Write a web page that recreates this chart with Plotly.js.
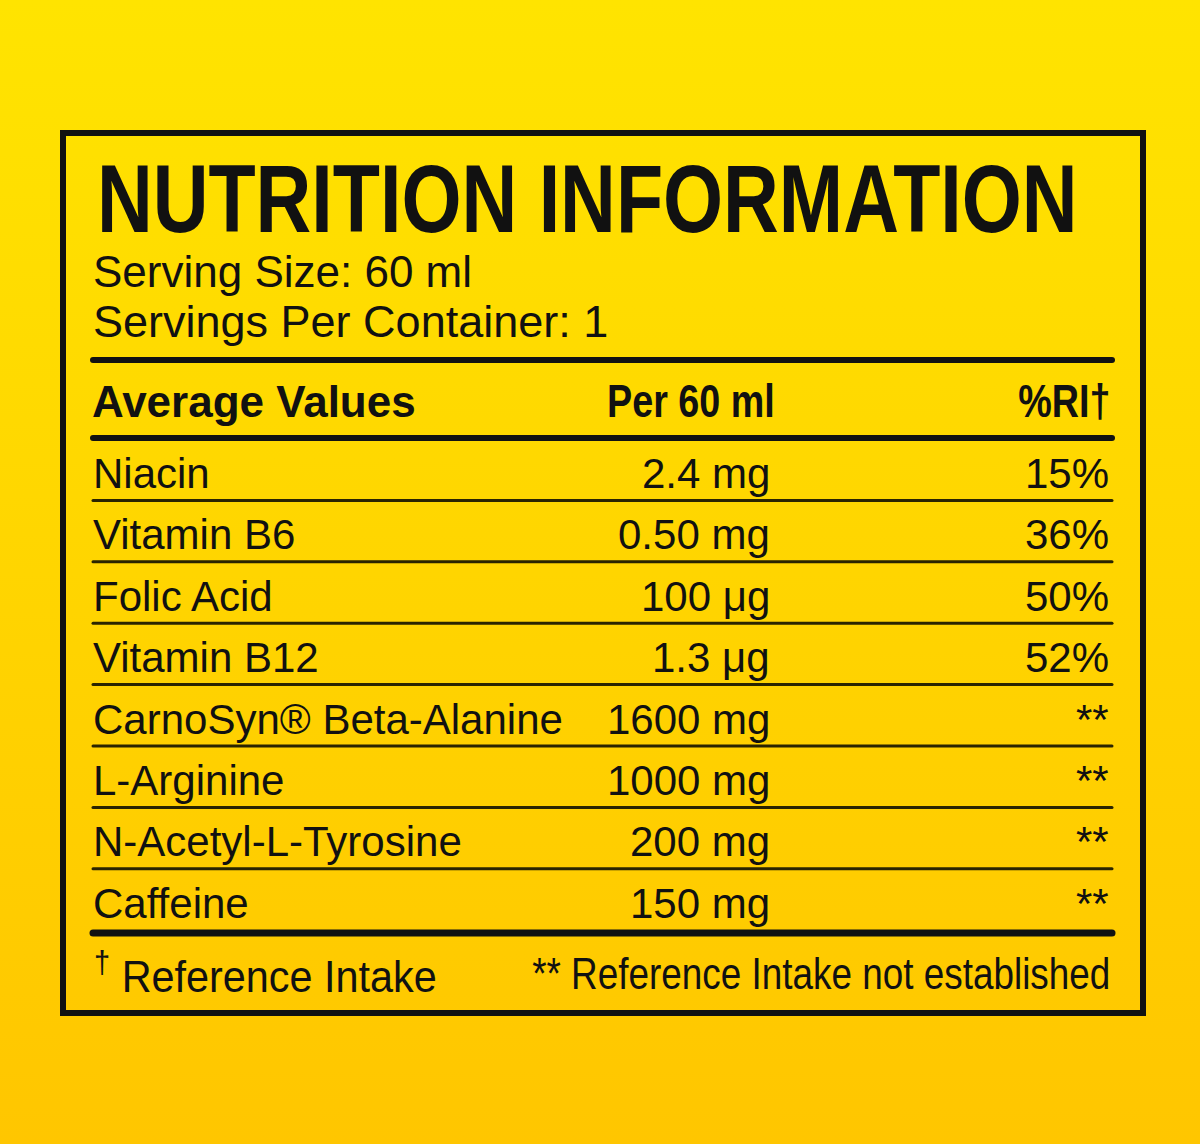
<!DOCTYPE html>
<html>
<head>
<meta charset="utf-8">
<script src="https://cdn.plot.ly/plotly-3.0.1.min.js"></script>
<style>
  html, body { margin:0; padding:0; width:1200px; height:1144px; overflow:hidden;
    background: linear-gradient(to bottom, #FFE400 0%, #FFD800 40%, #FFC600 100%); }
  #chart { width:1200px; height:1144px; }
  .shapelayer path { stroke-linecap: round; }
</style>
</head>
<body>
<div id="chart"></div>
<script>
// ---- data ----
const titleText = 'NUTRITION INFORMATION';
const servingLines = ['Serving Size: 60 ml', 'Servings Per Container: 1'];
const headers = ['Average Values', 'Per 60 ml', '%RI†'];
const nutrients = ['Niacin', 'Vitamin B6', 'Folic Acid', 'Vitamin B12',
  'CarnoSyn® Beta-Alanine', 'L-Arginine', 'N-Acetyl-L-Tyrosine', 'Caffeine'];
const amounts = ['2.4 mg', '0.50 mg', '100 μg', '1.3 μg', '1600 mg', '1000 mg', '200 mg', '150 mg'];
const riValues = ['15%', '36%', '50%', '52%', '**', '**', '**', '**'];
const footnotes = ['<sup>†</sup> Reference Intake', '** Reference Intake not established'];

// ---- layout helpers ----
const REG = 'Liberation Sans, Arial, sans-serif';
const INK = '#111';
const K = 0.3465; // baseline -> bbox middle offset (em)

const ann = [];
const condense = []; // horizontal condensing factor per annotation (1 = none)

function txt(text, x, baseline, size, xanchor, weight, cond) {
  ann.push({
    text: text, x: x, y: baseline - K * size, xref: 'x', yref: 'y',
    xanchor: xanchor, yanchor: 'middle', showarrow: false, borderpad: 0,
    font: { family: REG, size: size, color: INK, weight: weight || 'normal' }
  });
  condense.push({ f: cond || 1, anchor: xanchor });
}
function hline(y, w, color) {
  return { type: 'line', xref: 'x', yref: 'y', x0: 93, x1: 1112, y0: y, y1: y,
    line: { color: color || INK, width: w } };
}

const shapes = [];

// border
shapes.push({ type: 'rect', xref: 'x', yref: 'y', x0: 63, x1: 1143, y0: 133, y1: 1013,
  line: { color: INK, width: 6 }, fillcolor: 'rgba(0,0,0,0)' });

txt(titleText, 96, 232, 97, 'left', 'bold', 0.796);
txt(servingLines[0], 92, 287, 44, 'left');
txt(servingLines[1], 92, 337, 45, 'left');
shapes.push(hline(360, 6));

txt(headers[0], 91, 417, 44, 'left', 'bold');
txt(headers[1], 776, 417, 46, 'right', 'bold', 0.82);
txt(headers[2], 1111, 417, 46, 'right', 'bold', 0.82);
shapes.push(hline(438, 6));

const rowTop = 438, rowH = 61.4;
nutrients.forEach(function (n, i) {
  const base = 488 + i * rowH;
  txt(n, 92, base, 42, 'left');
  txt(amounts[i], 771, base, 42, 'right');
  txt(riValues[i], 1110, base, 42, 'right');
  if (i < nutrients.length - 1) shapes.push(hline(rowTop + (i + 1) * rowH + 1, 3, '#2a2400'));
});
shapes.push(hline(933, 7));

txt(footnotes[0], 93, 989, 45, 'left', 'normal', 0.92);
txt(footnotes[1], 1111, 989, 45, 'right', 'normal', 0.82);

const layout = {
  width: 1200, height: 1144,
  margin: { l: 0, r: 0, t: 0, b: 0 },
  paper_bgcolor: 'rgba(0,0,0,0)', plot_bgcolor: 'rgba(0,0,0,0)',
  xaxis: { range: [0, 1200], visible: false, fixedrange: true },
  yaxis: { range: [1144, 0], visible: false, fixedrange: true },
  showlegend: false,
  annotations: ann, shapes: shapes
};

Plotly.newPlot('chart', [{ x: [], y: [], type: 'scatter', mode: 'markers', hoverinfo: 'skip' }],
  layout, { displayModeBar: false, staticPlot: true }).then(function (gd) {
  // emulate the condensed typeface: squeeze selected texts horizontally about their anchor edge
  condense.forEach(function (c, i) {
    if (c.f === 1) return;
    const g = gd.querySelector('g.annotation[data-index="' + i + '"]');
    if (!g) return;
    const bb = g.getBBox();
    const ox = c.anchor === 'right' ? bb.x + bb.width : bb.x;
    g.setAttribute('transform', 'translate(' + ox + ',0) scale(' + c.f + ',1) translate(' + (-ox) + ',0)');
  });
});
</script>
</body>
</html>
